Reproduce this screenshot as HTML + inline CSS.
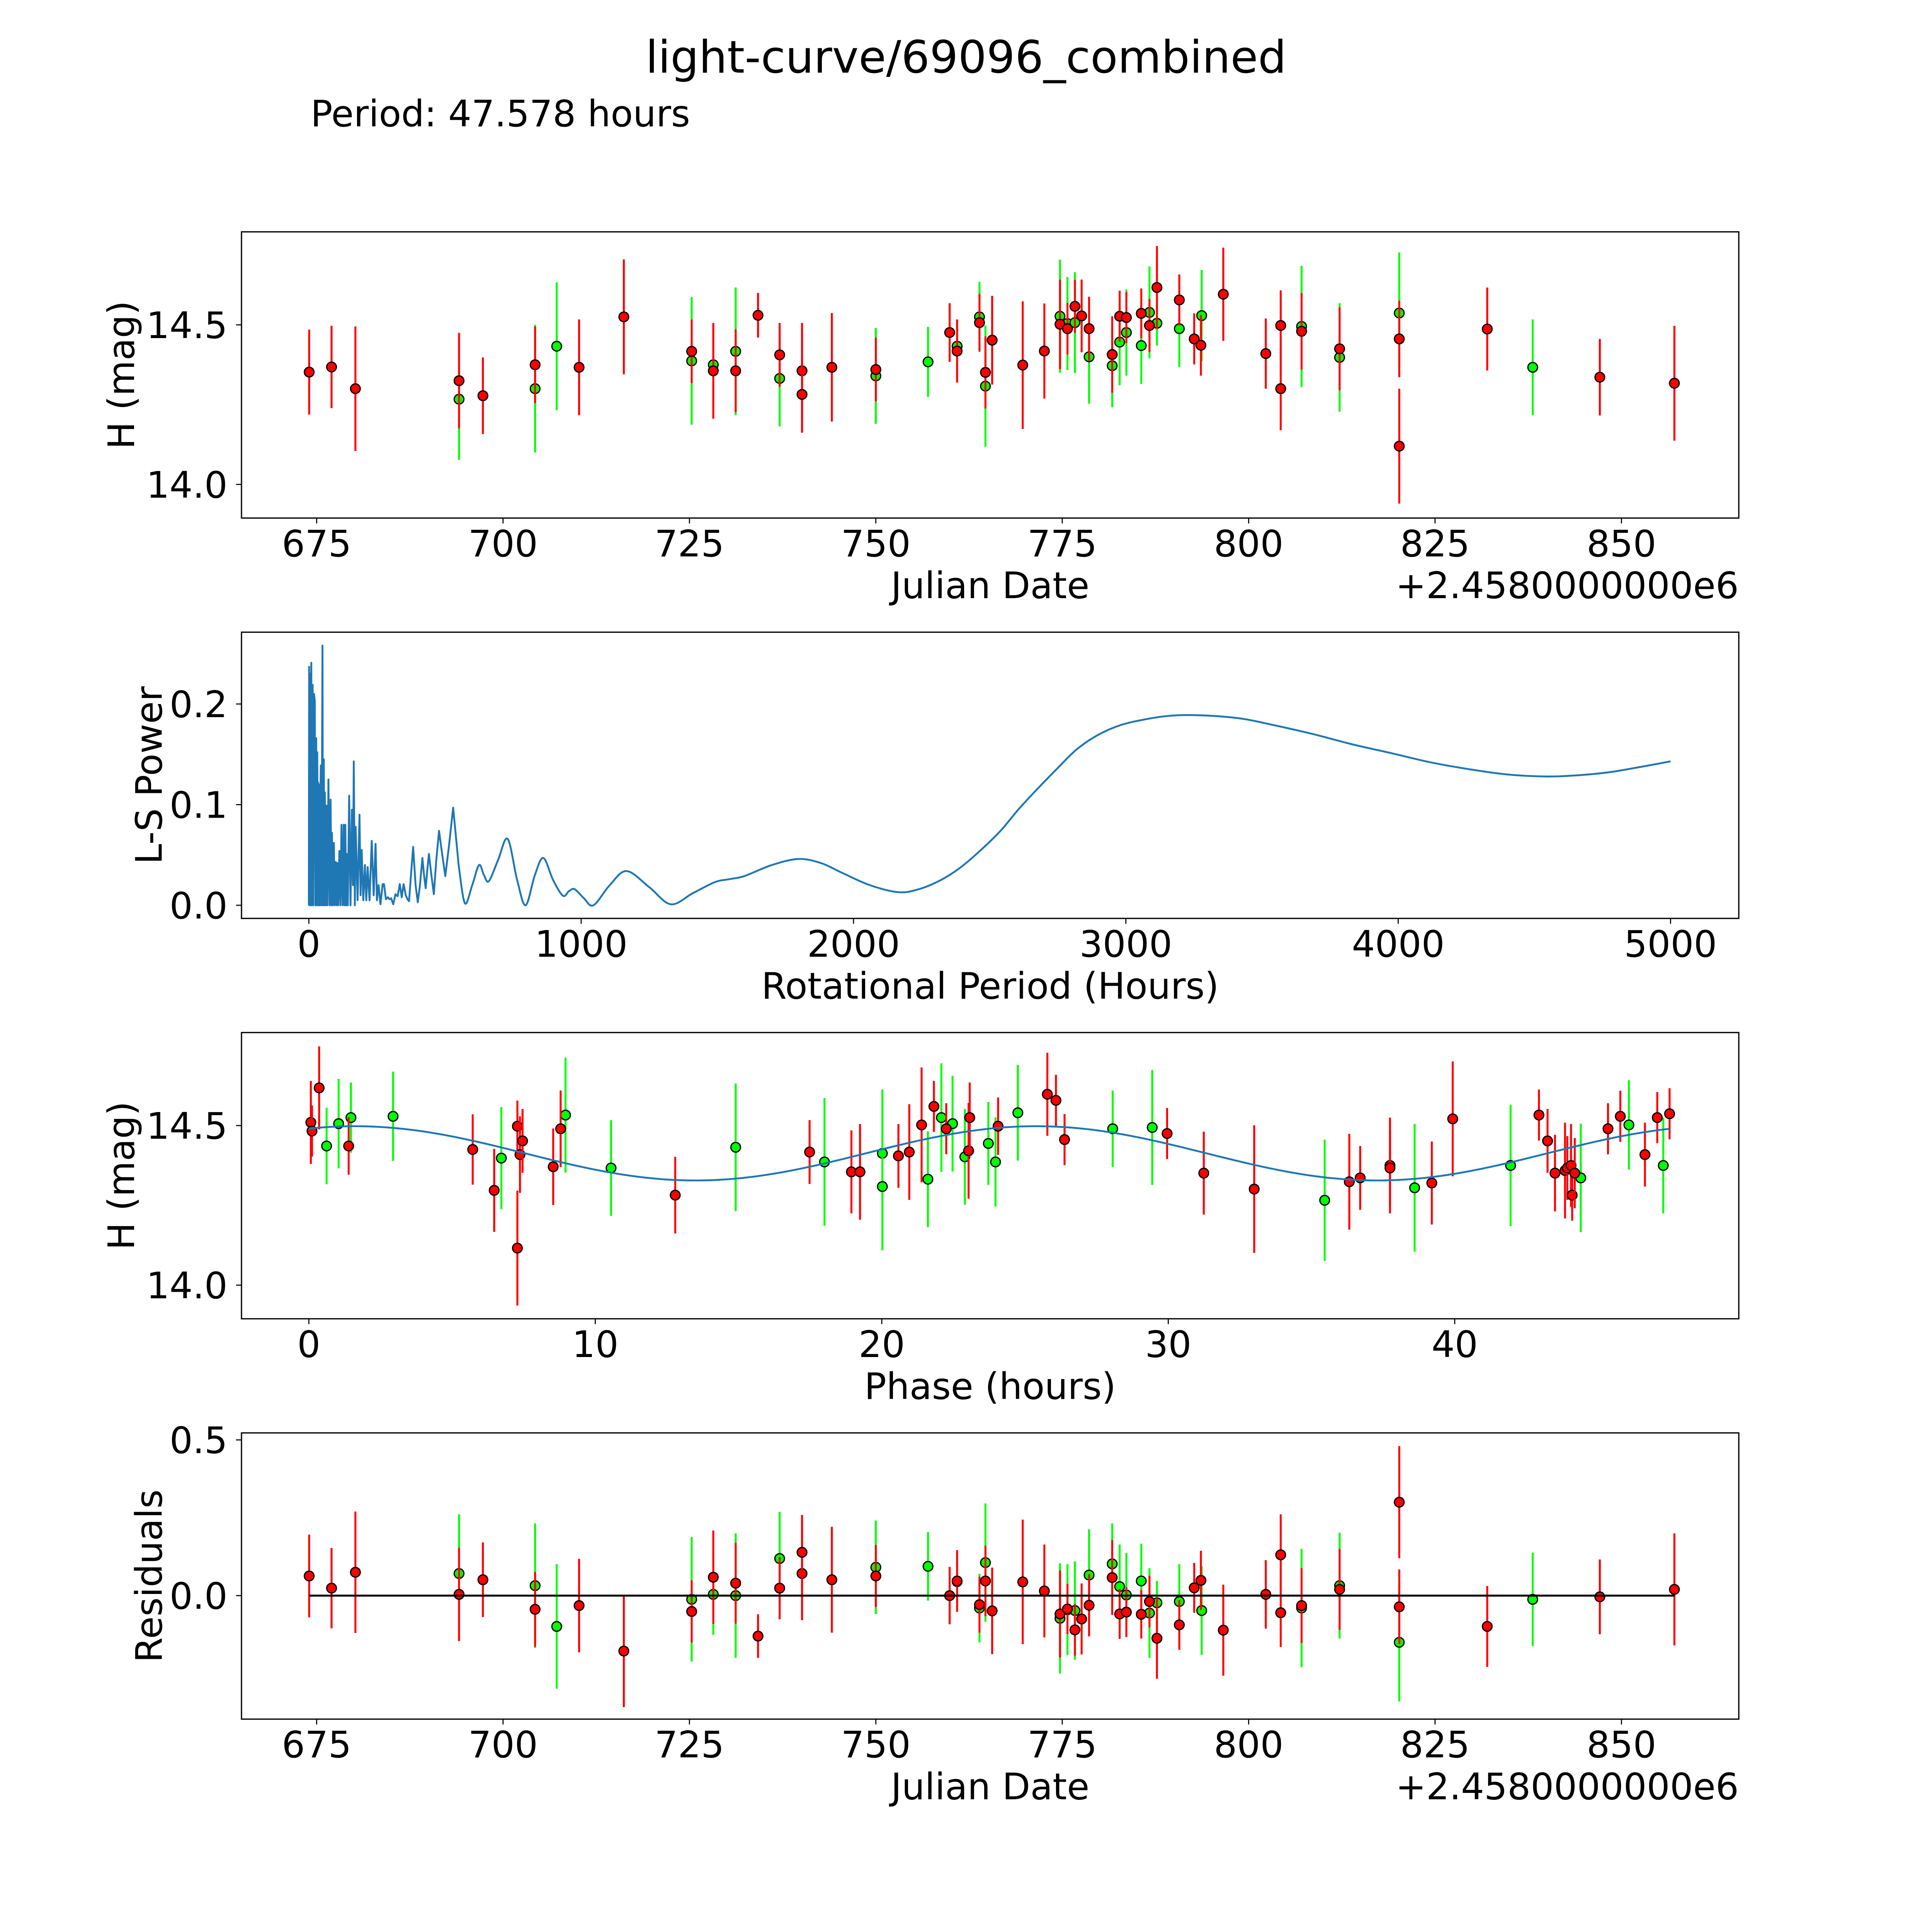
<!DOCTYPE html>
<html><head><meta charset="utf-8"><style>
html,body{margin:0;padding:0;background:#fff;overflow:hidden;width:100%;height:100%;}
svg{display:block;width:100vw;height:100vh;}
text{font-family:"DejaVu Sans","Liberation Sans",sans-serif;fill:#000;}
</style></head><body>
<svg id="fig" xmlns="http://www.w3.org/2000/svg" viewBox="0 0 5400 5400" preserveAspectRatio="none">
<rect x="0" y="0" width="5400" height="5400" fill="#fff"/>
<text x="2700" y="203" font-size="125" text-anchor="middle">light-curve/69096_combined</text>
<text x="868" y="353" font-size="102">Period: 47.578 hours</text>
<g id="p1"></g>
<g id="p2"></g>
<g id="p3"></g>
<g id="p4"></g>
</svg>
<script>
// ---- light curve data ----
const lcDate=[674.0,677.0,680.2,694.1,694.1,697.3,
704.3,704.3,707.2,710.2,716.2,725.3,
725.3,728.2,728.2,731.2,731.2,734.2,
737.1,737.1,740.1,740.1,744.1,750.0,
750.0,757.0,759.9,760.9,760.9,763.9,
763.9,764.7,764.7,765.6,769.7,772.6,
774.7,774.7,775.7,775.7,776.7,776.7,
777.6,778.6,778.6,781.7,781.7,782.7,
782.7,783.6,783.6,785.6,785.6,786.7,
786.7,787.7,787.7,790.7,790.7,792.7,
793.6,793.7,796.6,802.3,804.3,804.3,
807.1,807.1,812.2,812.2,820.2,820.2,
820.2,832.0,838.1,847.1,857.1];
const lcMag=[14.352,14.368,14.30,14.325,14.267,14.278,
14.375,14.30,14.433,14.367,14.525,14.417,
14.387,14.375,14.356,14.417,14.356,14.53,
14.406,14.332,14.356,14.282,14.367,14.36,
14.34,14.384,14.476,14.433,14.418,14.525,
14.507,14.351,14.308,14.452,14.374,14.418,
14.527,14.502,14.504,14.488,14.558,14.507,
14.528,14.488,14.40,14.407,14.372,14.527,
14.446,14.523,14.476,14.536,14.435,14.539,
14.498,14.617,14.505,14.578,14.488,14.456,
14.436,14.529,14.596,14.41,14.498,14.30,
14.495,14.48,14.425,14.398,14.537,14.456,
14.12,14.487,14.367,14.336,14.317];
const lcErr=[0.133,0.129,0.195,0.15,0.19,0.12,
0.12,0.2,0.2,0.15,0.18,0.1,
0.2,0.13,0.15,0.2,0.13,0.07,
0.1,0.15,0.15,0.12,0.17,0.1,
0.15,0.11,0.092,0.08,0.099,0.11,
0.09,0.113,0.19,0.139,0.2,0.149,
0.177,0.14,0.146,0.081,0.083,0.158,
0.114,0.1,0.147,0.12,0.13,0.08,
0.135,0.08,0.135,0.078,0.12,0.144,
0.083,0.13,0.07,0.08,0.12,0.08,
0.095,0.143,0.146,0.11,0.11,0.13,
0.19,0.12,0.13,0.17,0.19,0.12,
0.18,0.13,0.15,0.12,0.18];
const lcColor="rrrrgr"+"rggrrr"+"ggrgrr"+"rgrrrr"+"ggrgrg"+"rrgrrr"+"grgrrg"+"rrgrgr"+"grgrgg"+"rrgrgr"+"rgrrrr"+"grrggr"+"rrgrr";
// ---- residuals (same observations) ----
const resVal=[0.063,0.024,0.075,0.004,0.071,0.051,
-0.044,0.032,-0.099,-0.032,-0.178,-0.051,
-0.012,0.004,0.059,0,0.04,-0.13,
0.024,0.119,0.071,0.139,0.051,0.063,
0.091,0.094,0.0,0.045,0.047,-0.04,
-0.029,0.047,0.106,-0.049,0.044,0.015,
-0.073,-0.059,-0.045,-0.043,-0.11,-0.048,
-0.075,-0.031,0.066,0.058,0.102,-0.059,
0.029,-0.053,0.002,-0.06,0.047,-0.056,
-0.019,-0.137,-0.023,-0.094,-0.019,0.025,
0.049,-0.048,-0.111,0.004,-0.055,0.131,
-0.04,-0.032,0.02,0.032,-0.15,-0.036,
0.30,-0.099,-0.012,-0.004,0.02];
// ---- periodogram ----
const lsPeriod=[0,1,2,4,6,9,11,14,16,19,
22,24,27,29,31,33,34,36,38,40,
42,44,46,48,50,52,55,57,59,62,
65,68,72,76,80,83,85,88,92,95,
99,102,105,108,112,116,120,124,128,131,
134,137,139,143,148,153,158,162,165,169,
172,179,186,190,194,200,206,211,216,223,
231,238,245,250,256,263,271,276,283,290,
296,302,310,318,326,334,341,348,356,362,
368,375,383,392,400,408,417,423,429,435,
441,450,459,468,478,490,501,515,530,550,
573,600,625,643,661,695,730,765,796,830,
861,897,933,955,976,1010,1045,1105,1167,1250,
1329,1410,1491,1545,1599,1700,1798,1880,1960,2060,
2165,2240,2320,2390,2464,2540,2608,2680,2752,2820,
2896,2980,3076,3150,3220,3330,3436,3560,3689,3830,
3977,4120,4265,4400,4539,4650,4769,4880,5000];
const lsPower=[0,0.237,0,0.23,0,0.241,0,0.219,0,0.21,
0.203,0,0.166,0,0.152,0,0.122,0,0.12,0,
0.1,0.139,0,0.1,0.258,0,0.145,0,0.112,0,
0.099,0,0.125,0,0.105,0,0.072,0,0.062,0,
0.043,0,0.042,0,0.054,0,0.08,0,0.08,0,
0.08,0,0.051,0,0.109,0,0.095,0.02,0.143,0,
0.078,0.005,0.09,0.01,0.055,0.005,0.04,0.005,0.038,0.005,
0.064,0.01,0.061,0.005,0.02,0.001,0.021,0.021,0.006,0.008,
0.006,0.007,0.001,0.011,0.009,0.021,0.008,0.021,0.01,0.006,
0.004,0.03,0.058,0.02,0.003,0.02,0.047,0.03,0.017,0.035,
0.051,0.03,0.011,0.045,0.074,0.05,0.029,0.06,0.097,0.04,
0.002,0.02,0.04,0.03,0.024,0.045,0.066,0.025,0,0.03,
0.047,0.025,0.0095,0.014,0.016,0.007,0,0.02,0.034,0.018,
0.001,0.012,0.023,0.026,0.029,0.04,0.046,0.042,0.032,0.02,
0.013,0.016,0.025,0.037,0.054,0.074,0.096,0.117,0.137,0.155,
0.169,0.179,0.185,0.188,0.189,0.188,0.185,0.178,0.17,0.16,
0.151,0.142,0.135,0.13,0.128,0.129,0.132,0.137,0.143];
// ---- phased data ----
const phPhase=[0.07,0.11,0.36,0.62,1.04,1.39,1.47,2.94,5.72,6.47,
6.72,7.28,7.37,7.46,7.28,8.53,8.79,8.96,10.55,12.79,
14.9,17.48,18.0,18.94,19.24,20.02,20.02,20.58,20.96,21.39,
21.61,21.82,22.08,22.25,22.47,22.9,23.03,23.07,23.72,23.97,
24.06,24.75,25.78,26.08,26.38,28.06,29.44,29.96,31.24,33.0,
35.46,36.32,36.7,37.74,37.74,38.6,39.2,39.93,41.95,42.94,
43.24,43.5,43.85,43.93,44.06,44.1,44.19,44.4,45.35,45.78,
46.08,46.64,47.07,47.28,47.5];
const phMag=[14.51,14.483,14.618,14.436,14.506,14.436,14.525,14.529,14.425,14.297,
14.398,14.498,14.409,14.452,14.116,14.371,14.49,14.533,14.367,14.282,
14.432,14.417,14.386,14.355,14.355,14.413,14.309,14.405,14.417,14.502,
14.332,14.56,14.525,14.49,14.506,14.402,14.421,14.525,14.444,14.386,
14.498,14.54,14.598,14.579,14.456,14.49,14.494,14.475,14.351,14.301,
14.266,14.324,14.336,14.375,14.367,14.305,14.32,14.521,14.375,14.533,
14.452,14.351,14.359,14.367,14.375,14.282,14.351,14.336,14.49,14.529,
14.502,14.409,14.525,14.375,14.537];
const phErr=[0.13,0.08,0.13,0.12,0.14,0.09,0.11,0.14,0.11,0.13,
0.16,0.08,0.12,0.1,0.18,0.12,0.12,0.18,0.15,0.12,
0.2,0.1,0.2,0.13,0.15,0.2,0.2,0.1,0.15,0.18,
0.15,0.08,0.17,0.08,0.15,0.15,0.15,0.11,0.13,0.14,
0.09,0.15,0.13,0.08,0.08,0.12,0.18,0.08,0.13,0.2,
0.19,0.15,0.1,0.15,0.12,0.2,0.13,0.18,0.19,0.08,
0.1,0.12,0.15,0.1,0.13,0.08,0.11,0.17,0.08,0.08,
0.14,0.1,0.08,0.15,0.08];
const phColor="rrrggrggrr"+"grrrrrrggr"+"grgrrggrrr"+"grgrggrrgg"+"rgrrrggrrr"+"grrrrgrrgr"+"rrrrrrrgrr"+"grrgr";
const fitMean=14.413, fitAmp=0.085, fitPeak=1.6, fitPeriod=47.578/2;
// ---- ticks ----
const dateTicks=[675,700,725,750,775,800,825,850];
const magTicks=[14.0,14.5];
const lsXTicks=[0,1000,2000,3000,4000,5000];
const lsYTicks=[0.0,0.1,0.2];
const phTicks=[0,10,20,30,40];
const resTicks=[0.0,0.5];

const NS="http://www.w3.org/2000/svg";
const S=1;
const L=675*S,R=4860*S,W=R-L,H=800*S;
const tops=[648*S,1767*S,2886*S,4005*S];
const RED="#ff0000",GREEN="#00ff00",BLUE="#1f77b4";
function dateX(d){return (885+(d-675)*20.84)*S;}
function magY1(m){return (908-(m-14.5)*892)*S;}
function magY3(m){return (3146-(m-14.5)*892)*S;}
function lsX(p){return (863.2+p*0.7612)*S;}
function lsY(v){return (2530.3-v*2813)*S;}
function phX(p){return (863.2+p*80.07)*S;}
function resY(r){return (4459.8-r*870.4)*S;}
function mk(tag,attrs,parent){const e=document.createElementNS(NS,tag);for(const k in attrs)e.setAttribute(k,attrs[k]);parent.appendChild(e);return e;}
const FS=102*S;

function frame(g,top){
  const r=mk('rect',{x:L,y:top,width:W,height:H,fill:'none',stroke:'#000','stroke-width':3.5*S},g);
  
  
}
function xTicks(g,top,ticks,fx,fmt){
  const b=top+H;
  ticks.forEach(t=>{
    const x=fx(t);
    const tk=mk('line',{x1:x,y1:b,x2:x,y2:b+15*S,stroke:'#000','stroke-width':3*S},g);
    
    
    const tx=mk('text',{x:x,y:b+107*S,'font-size':FS,'text-anchor':'middle'},g);
    tx.textContent=fmt(t);
    
    
  });
}
function yTicks(g,ticks,fy,fmt){
  ticks.forEach(t=>{
    const y=fy(t);
    const tk=mk('line',{x1:L-15*S,y1:y,x2:L,y2:y,stroke:'#000','stroke-width':3*S},g);
    
    
    const tx=mk('text',{x:636*S,y:y+37*S,'font-size':FS,'text-anchor':'end'},g);
    tx.textContent=fmt(t);
    
    
  });
}
function xLabel(g,top,txt,name){
  const t=mk('text',{x:(L+R)/2,y:top+H+224*S,'font-size':FS,'text-anchor':'middle'},g);
  t.textContent=txt;
  
  
}
function yLabel(g,top,txt,bx,name){
  const t=mk('text',{transform:`translate(${bx*S},${top+H/2}) rotate(-90)`,'font-size':FS,'text-anchor':'middle'},g);
  t.textContent=txt;
  
  
}
function offsetText(g,top){
  const t=mk('text',{x:R,y:top+H+224*S,'font-size':FS,'text-anchor':'end'},g);
  t.textContent='+2.4580000000e6';
  
  
}
function points(g,xs,ys,errs,cols,fx,fy,escale){
  const order=[];
  for(let i=0;i<xs.length;i++) if(cols[i]==='g') order.push(i);
  for(let i=0;i<xs.length;i++) if(cols[i]!=='g') order.push(i);
  order.forEach(i=>{
    const x=fx(xs[i]),y=fy(ys[i]),e=errs[i]*escale*S;
    const c=cols[i]==='g'?GREEN:RED;
    const bar=mk('line',{x1:x,y1:y-e,x2:x,y2:y+e,stroke:c,'stroke-width':5.5*S},g);
    
    
    const dot=mk('circle',{cx:x,cy:y,r:13.5*S,fill:c,stroke:'#000','stroke-width':3.5*S},g);
    
    
  });
}

// Panel 1
(function(){
  const g=document.getElementById('p1');const top=tops[0];
  points(g,lcDate,lcMag,lcErr,lcColor,dateX,magY1,892);
  frame(g,top);
  xTicks(g,top,dateTicks,dateX,t=>String(t));
  yTicks(g,magTicks,magY1,t=>t.toFixed(1));
  xLabel(g,top,'Julian Date','x-axis-title');
  yLabel(g,top,'H (mag)',375,'y-axis-title');
  offsetText(g,top);
})();
// Panel 2
(function(){
  const g=document.getElementById('p2');const top=tops[1];
  let d='';let i0=0;
  for(let i=0;i<lsPeriod.length;i++){if(lsPeriod[i]<573){d+=(i===0?'M':'L')+lsX(lsPeriod[i]).toFixed(1)+' '+lsY(lsPower[i]).toFixed(1)+' ';i0=i;}}
  const xs=[],ys=[];
  for(let i=i0;i<lsPeriod.length;i++){xs.push(lsX(lsPeriod[i]));ys.push(lsY(lsPower[i]));}
  for(let k=0;k<xs.length-1;k++){
    const x0=xs[Math.max(k-1,0)],y0=ys[Math.max(k-1,0)],x1=xs[k],y1=ys[k],x2=xs[k+1],y2=ys[k+1],x3=xs[Math.min(k+2,xs.length-1)],y3=ys[Math.min(k+2,xs.length-1)];
    const c1x=x1+(x2-x0)/6,c1y=y1+(y2-y0)/6,c2x=x2-(x3-x1)/6,c2y=y2-(y3-y1)/6;
    d+=`C${c1x.toFixed(1)} ${c1y.toFixed(1)} ${c2x.toFixed(1)} ${c2y.toFixed(1)} ${x2.toFixed(1)} ${y2.toFixed(1)} `;
  }
  const p=mk('path',{d:d,fill:'none',stroke:BLUE,'stroke-width':5.2*S,'stroke-linejoin':'round'},g);
  
  
  frame(g,top);
  xTicks(g,top,lsXTicks,lsX,t=>String(t));
  yTicks(g,lsYTicks,lsY,t=>t.toFixed(1));
  xLabel(g,top,'Rotational Period (Hours)','x-axis-title');
  yLabel(g,top,'L-S Power',452,'y-axis-title');
})();
// Panel 3
(function(){
  const g=document.getElementById('p3');const top=tops[2];
  points(g,phPhase,phMag,phErr,phColor,phX,magY3,892);
  let d='';
  for(let k=0;k<=300;k++){const ph=47.5*k/300;const m=fitMean+fitAmp*Math.cos(2*Math.PI*(ph-fitPeak)/fitPeriod);d+=(k?'L':'M')+phX(ph).toFixed(1)+' '+magY3(m).toFixed(1)+' ';}
  const p=mk('path',{d:d,fill:'none',stroke:BLUE,'stroke-width':5.2*S},g);
  
  
  frame(g,top);
  xTicks(g,top,phTicks,phX,t=>String(t));
  yTicks(g,magTicks,magY3,t=>t.toFixed(1));
  xLabel(g,top,'Phase (hours)','x-axis-title');
  yLabel(g,top,'H (mag)',375,'y-axis-title');
})();
// Panel 4
(function(){
  const g=document.getElementById('p4');const top=tops[3];
  points(g,lcDate,resVal,lcErr,lcColor,dateX,resY,870.4);
  const z=mk('line',{x1:dateX(Math.min(...lcDate)),y1:resY(0),x2:dateX(Math.max(...lcDate)),y2:resY(0),stroke:'#000','stroke-width':5.5*S},g);
  
  
  frame(g,top);
  xTicks(g,top,dateTicks,dateX,t=>String(t));
  yTicks(g,resTicks,resY,t=>t.toFixed(1));
  xLabel(g,top,'Julian Date','x-axis-title');
  yLabel(g,top,'Residuals',452,'y-axis-title');
  offsetText(g,top);
})();
</script>
</body></html>
